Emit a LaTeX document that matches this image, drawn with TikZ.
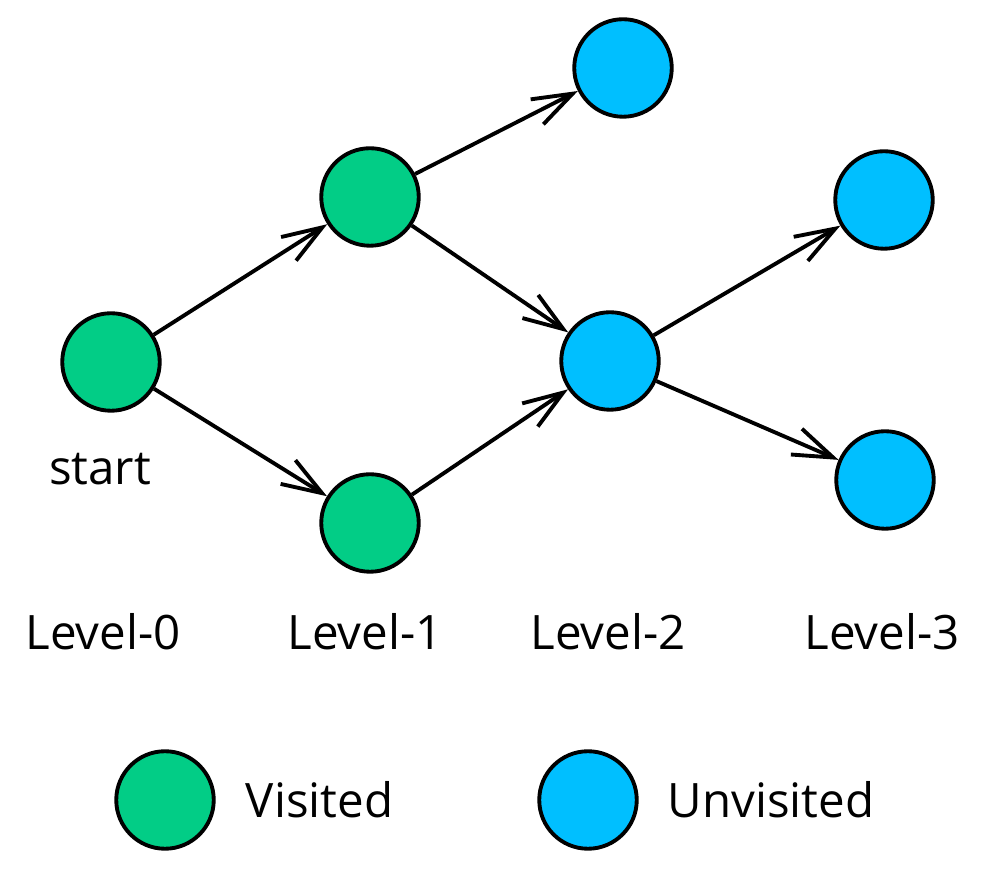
\documentclass[tikz,border=0pt]{standalone}
\usepackage{fontspec}
\setmainfont{Open Sans}
\usetikzlibrary{arrows.meta}
\definecolor{visited}{RGB}{2,205,134}
\definecolor{unvisited}{RGB}{0,191,255}

\begin{document}
\begin{tikzpicture}[line width=2.2pt, >={Straight Barb[length=0.8cm, width=0.56cm, line width=2.2pt]}, vnode/.style = {shape=circle, draw, fill=visited, minimum size=1.95cm, inner sep=0pt}, unode/.style = {shape=circle, draw, fill=unvisited, minimum size=1.95cm, inner sep=0pt}, lbl/.style = {font=\fontsize{27}{30}\selectfont}]
	\useasboundingbox (0,0) rectangle (19.72,17.68);
	% graph
	\node[vnode] (s) at (2.22,10.44) {};
	\node[vnode] (a) at (7.40,13.74) {};
	\node[vnode] (b) at (7.40,7.22) {};
	\node[unode] (c) at (12.46,16.32) {};
	\node[unode] (d) at (12.20,10.46) {};
	\node[unode] (e) at (17.68,13.68) {};
	\node[unode] (f) at (17.70,8.08) {};
	\draw[->] (s) -- (a);
	\draw[->] (s) -- (b);
	\draw[->] (a) -- (c);
	\draw[->] (a) -- (d);
	\draw[->] (b) -- (d);
	\draw[->] (d) -- (e);
	\draw[->] (d) -- (f);
	% labels
	\node[lbl] (st) at (2.00,8.30) {start};
	\node[lbl] (l0) at (2.06,5.04) {Level-0};
	\node[lbl] (l1) at (7.30,5.04) {Level-1};
	\node[lbl] (l2) at (12.16,5.04) {Level-2};
	\node[lbl] (l3) at (17.64,5.04) {Level-3};
	% legend
	\node[vnode] (kv) at (3.30,1.68) {};
	\node[lbl, anchor=west] (tv) at (4.76,1.68) {Visited};
	\node[unode] (ku) at (11.76,1.68) {};
	\node[lbl, anchor=west] (tu) at (13.20,1.68) {Unvisited};
\end{tikzpicture}
\end{document}
